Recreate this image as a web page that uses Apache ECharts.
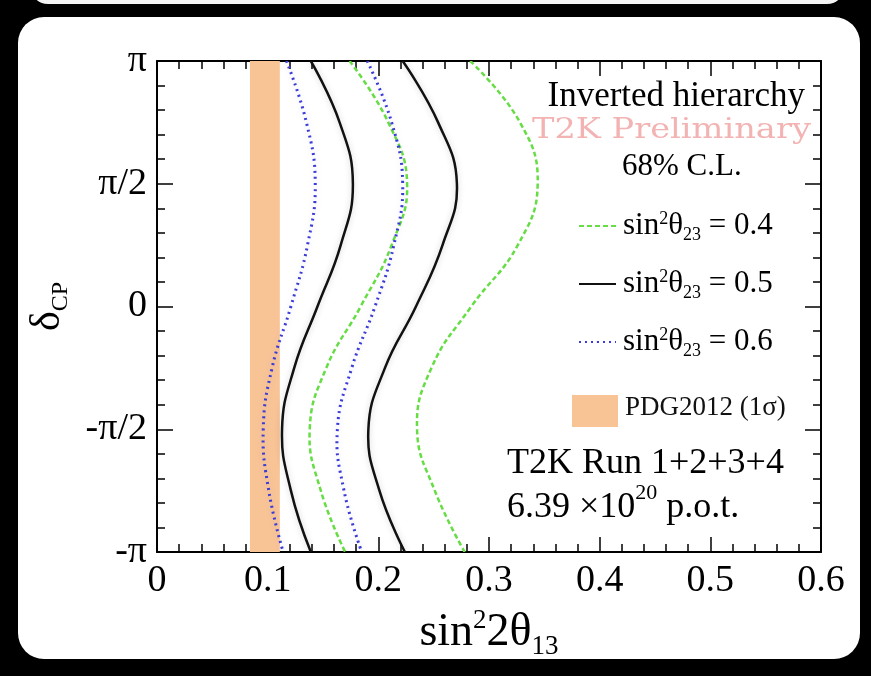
<!DOCTYPE html>
<html>
<head>
<meta charset="utf-8">
<script src="https://cdn.jsdelivr.net/npm/echarts@6/dist/echarts.min.js"></script>
<style>
html,body{margin:0;padding:0;background:#000;}
#chart{width:871px;height:676px;}
</style>
</head>
<body>
<div id="chart"></div>
<script>
// delta_CP sampling (radians) at which contour positions were read
const deltaValues = [3.1416, 2.3562, 1.5708, 0.7854, 0, -0.7854, -1.5708, -2.3562, -3.1416];
// sin^2(2theta13) positions of the 68% C.L. contour edges
const s04Left  = [0.174, 0.209, 0.226, 0.212, 0.184, 0.153, 0.138, 0.148, 0.170];
const s04Right = [0.283, 0.328, 0.344, 0.326, 0.284, 0.248, 0.235, 0.251, 0.278];
const s05Left  = [0.139, 0.165, 0.177, 0.166, 0.145, 0.124, 0.113, 0.121, 0.139];
const s05Right = [0.222, 0.254, 0.271, 0.258, 0.234, 0.206, 0.191, 0.201, 0.224];
const s06Left  = [0.117, 0.135, 0.143, 0.136, 0.121, 0.104, 0.096, 0.101, 0.114];
const s06Right = [0.190, 0.212, 0.222, 0.214, 0.197, 0.176, 0.163, 0.169, 0.185];
// PDG2012 1 sigma band
const pdgBand = [0.084, 0.111];
const yTickLabels = ['-π', '-π/2', '0', 'π/2', 'π'];
const seriesNames = ['s04', 's05', 's06'];
const legendValues = ['0.4', '0.5', '0.6'];

const SERIF = "'Liberation Serif','Times New Roman',serif";
function pts(xs){ return xs.map((x,i)=>[x, deltaValues[i]]); }

const styles = {
  s04: {color:'#66dd44', width:2.5, type:[5,3], shadowColor:'rgba(0,0,0,0)', shadowBlur:0},
  s05: {color:'#111111', width:2.5, type:'solid', shadowColor:'rgba(0,0,0,0.18)', shadowBlur:6},
  s06: {color:'#3b3bd6', width:3, type:[2,4], shadowColor:'rgba(60,60,220,0.15)', shadowBlur:6}
};
// legend-only line series (no data) carrying the line style
function legendSeries(name){
  return {name:name, type:'line', data:[], showSymbol:false, symbol:'none',
          lineStyle:styles[name], itemStyle:{color:styles[name].color}};
}
// contour curve drawn through the axes' scales
function curveSeries(name, xs){
  const data = pts(xs);
  const st = styles[name];
  return {
    name: name+'_curve', type:'custom', data: data, silent:true, z:3, clip:true,
    renderItem:function(params, api){
      if (params.dataIndex !== 0) return null;
      const points = data.map(d => api.coord(d));
      return {type:'polyline', shape:{points:points, smooth:0.45},
        style:{fill:'none', stroke:st.color, lineWidth:st.width,
               lineDash: Array.isArray(st.type) ? st.type : null,
               shadowColor:st.shadowColor, shadowBlur:st.shadowBlur}};
    }
  };
}

const chart = echarts.init(document.getElementById('chart'));
const axisLineStyle = {color:'#000', width:2};
const option = {
  backgroundColor:'#000',
  animation:false,
  grid:{left:157, right:50, top:61, bottom:124},
  graphic:[
    {type:'rect', z:-10, shape:{x:30, y:-40, width:815, height:44, r:18}, style:{fill:'#f4f4f4'}},
    {type:'rect', z:-10, shape:{x:18, y:17, width:842, height:642, r:26}, style:{fill:'#fff'}},
    {type:'text', right:66, top:79, z:10, style:{text:'Inverted hierarchy', font:"35px "+SERIF, fill:'#000'}},
    {type:'text', x:532, y:117, scaleX:1.2, z:10, style:{text:'T2K Preliminary', font:"28px 'DejaVu Serif',serif", fill:'#f3b3b3'}},
    {type:'text', left:622, top:151, z:10, style:{text:'68% C.L.', font:"31px "+SERIF, fill:'#000'}},
    {type:'text', left:625, top:394, z:10, style:{text:'PDG2012 (1σ)', font:"27px "+SERIF, fill:'#111'}},
    {type:'text', left:507, top:446, z:10, style:{text:'T2K Run 1+2+3+4', font:"36px "+SERIF, fill:'#000'}},
    {type:'text', left:507, top:482, z:10, style:{
      text:'{t|6.39 ×10}{sup|20}{t| p.o.t.}',
      rich:{
        t:{fontFamily:SERIF, fontSize:36, lineHeight:44, verticalAlign:'bottom', color:'#000'},
        sup:{fontFamily:SERIF, fontSize:22, lineHeight:44, verticalAlign:'top', color:'#000'}
      }
    }}
  ],
  legend:[{
    data: seriesNames,
    orient:'vertical', left:573, top:203, itemWidth:37, itemHeight:2, itemGap:22,
    formatter: function(name){
      const v = legendValues[seriesNames.indexOf(name)];
      return '{t|sin}{sup|2}{t|θ}{sub|23}{t| = '+v+'}';
    },
    textStyle:{
      color:'#000', padding:[0,0,0,2],
      rich:{
        t:{fontFamily:SERIF, fontSize:31, color:'#000', lineHeight:36},
        sup:{fontFamily:SERIF, fontSize:18, color:'#000', lineHeight:36, verticalAlign:'top', padding:[2,0,0,0]},
        sub:{fontFamily:SERIF, fontSize:18, color:'#000', lineHeight:36, verticalAlign:'bottom'}
      }
    },
    selectedMode:false
  },{
    data:['pdg'], orient:'vertical', left:567, top:390, itemWidth:46, itemHeight:32,
    formatter: function(){ return ''; }, selectedMode:false, icon:'rect'
  }],
  xAxis:[{
    type:'value', min:0, max:0.6, interval:0.1,
    axisLine:{onZero:false, lineStyle:axisLineStyle}, splitLine:{show:false},
    axisTick:{inside:true, length:15, lineStyle:{color:'#000', width:1.5}},
    minorTick:{show:true, splitNumber:5, length:8, lineStyle:{color:'#000', width:1.5}},
    axisLabel:{fontFamily:SERIF, fontSize:38, color:'#000', margin:10,
      formatter:function(v){ return v===0 ? '0' : v.toFixed(1); }},
    name:'{t|sin}{sup|2}{t|2θ}{sub|13}', nameLocation:'middle', nameGap:50,
    nameTextStyle:{rich:{
      t:{fontFamily:SERIF, fontSize:46, color:'#000', lineHeight:56},
      sup:{fontFamily:SERIF, fontSize:27, color:'#000', lineHeight:56, verticalAlign:'top', padding:[3,0,0,0]},
      sub:{fontFamily:SERIF, fontSize:27, color:'#000', lineHeight:56, verticalAlign:'bottom'}
    }}
  },{
    type:'value', position:'top', min:0, max:0.6, interval:0.1,
    axisLine:{onZero:false, lineStyle:axisLineStyle}, splitLine:{show:false}, axisLabel:{show:false},
    axisTick:{inside:true, length:15, lineStyle:{color:'#000', width:1.5}},
    minorTick:{show:true, splitNumber:5, length:8, lineStyle:{color:'#000', width:1.5}}
  }],
  yAxis:[{
    type:'value', min:-Math.PI, max:Math.PI, interval:Math.PI/2,
    axisLine:{onZero:false, lineStyle:axisLineStyle}, splitLine:{show:false},
    axisTick:{inside:true, length:16, lineStyle:{color:'#000', width:1.5}},
    minorTick:{show:true, splitNumber:5, length:8, lineStyle:{color:'#000', width:1.5}},
    axisLabel:{fontFamily:SERIF, fontSize:38, color:'#000', margin:10,
      formatter:function(v){ return yTickLabels[Math.round(v/(Math.PI/2))+2]; }},
    name:'{d|δ}{sub|CP}', nameLocation:'middle', nameGap:84, nameRotate:90,
    nameTextStyle:{rich:{
      d:{fontFamily:SERIF, fontSize:42, color:'#000', lineHeight:50},
      sub:{fontFamily:SERIF, fontSize:24, color:'#000', lineHeight:50, verticalAlign:'bottom'}
    }}
  },{
    type:'value', position:'right', min:-Math.PI, max:Math.PI, interval:Math.PI/2,
    axisLine:{onZero:false, lineStyle:axisLineStyle}, splitLine:{show:false}, axisLabel:{show:false},
    axisTick:{inside:true, length:16, lineStyle:{color:'#000', width:1.5}},
    minorTick:{show:true, splitNumber:5, length:8, lineStyle:{color:'#000', width:1.5}}
  }],
  series:[
    {
      name:'pdg', type:'custom', silent:true, z:1,
      itemStyle:{color:'#f8c496'},
      renderItem:function(params, api){
        const p0 = api.coord([pdgBand[0], Math.PI]);
        const p1 = api.coord([pdgBand[1], -Math.PI]);
        return {type:'rect', shape:{x:p0[0], y:p0[1], width:p1[0]-p0[0], height:p1[1]-p0[1]},
                style:{fill:'#f8c496'}};
      },
      data:[[pdgBand[0], 0]]
    },
    legendSeries('s04'), legendSeries('s05'), legendSeries('s06'),
    curveSeries('s04', s04Left), curveSeries('s04', s04Right),
    curveSeries('s05', s05Left), curveSeries('s05', s05Right),
    curveSeries('s06', s06Left), curveSeries('s06', s06Right)
  ]
};
chart.setOption(option);
</script>
</body>
</html>
